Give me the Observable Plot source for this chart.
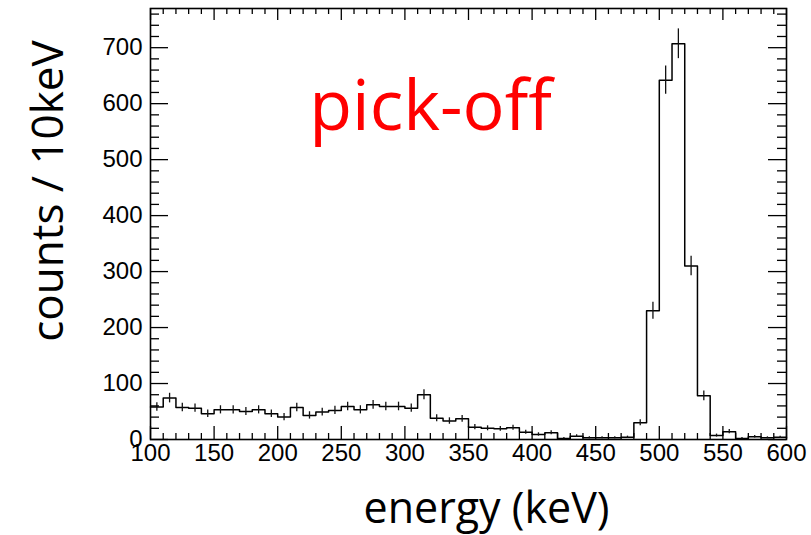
<!DOCTYPE html>
<html>
<head>
<meta charset="utf-8">
<script src="https://cdn.jsdelivr.net/npm/d3@7"></script>
<script src="https://cdn.jsdelivr.net/npm/@observablehq/plot@0.6"></script>
<style>
  html, body { margin: 0; padding: 0; background: #fff; }
  #chart svg { display: block; }
</style>
</head>
<body>
<div id="chart"></div>
<script>
// ---- data ----
const binLow = [100,110,120,130,140,150,160,170,180,190,
                200,210,220,230,240,250,260,270,280,290,
                300,310,320,330,340,350,360,370,380,390,
                400,410,420,430,440,450,460,470,480,490,
                500,510,520,530,540,550,560,570,580,590];
const binWidth = 10;
const counts = [58,74,57,56,46,53,53,50,53,46,
                40,57,43,49,52,59,53,62,59,59,
                56,80,38,33,37,22,20,19,21,13,
                9,12,2,6,3,3,3,4,30,230,
                642,707,310,78,7,14,2,5,3,4];
const xMajorTicks = [100,150,200,250,300,350,400,450,500,550,600];
const xMinorTicks = [110,120,130,140,160,170,180,190,210,220,230,240,260,270,280,290,
                     310,320,330,340,360,370,380,390,410,420,430,440,460,470,480,490,
                     510,520,530,540,560,570,580,590];
const yMajorTicks = [0,100,200,300,400,500,600,700];
const yMinorTicks = [20,40,60,80,120,140,160,180,220,240,260,280,320,340,360,380,
                     420,440,460,480,520,540,560,580,620,640,660,680,720,740,760];
const xTitle = "energy (keV)";
const yTitle = "counts / 10keV";
const annotation = "pick-off";

// ---- derived tables ----
const bins = binLow.map((lo, i) => ({lo, hi: lo + binWidth, mid: lo + binWidth / 2, n: counts[i]}));
const stepPts = bins.map(b => ({x: b.lo, y: b.n}));
stepPts.push({x: bins[bins.length - 1].hi, y: bins[bins.length - 1].n});

const W = 811, H = 535;
const mL = 150, mR = 25, mT = 8, mB = 96;
const fw = W - mL - mR, fh = H - mT - mB;

const chart = Plot.plot({
  width: W, height: H,
  marginLeft: mL, marginRight: mR, marginTop: mT, marginBottom: mB,
  style: {fontFamily: "'Liberation Sans', Arial, sans-serif", fontSize: "24px", color: "#000", background: "#fff"},
  x: {domain: [100, 600]},
  y: {domain: [0, 770]},
  marks: [
    // histogram outline
    Plot.line(stepPts, {x: "x", y: "y", curve: "step-after", stroke: "#000", strokeWidth: 1.5}),
    // error bars
    Plot.ruleX(bins, {x: "mid", y1: d => d.n - Math.sqrt(d.n), y2: d => Math.min(770, d.n + Math.sqrt(d.n)), stroke: "#111", strokeWidth: 1.3}),
    // ticks: bottom
    Plot.ruleX(xMajorTicks, {x: d => d, insetTop: fh - 13, stroke: "#000", strokeWidth: 1.3}),
    Plot.ruleX(xMinorTicks, {x: d => d, insetTop: fh - 6, stroke: "#000", strokeWidth: 1.3}),
    // ticks: top
    Plot.ruleX(xMajorTicks, {x: d => d, insetBottom: fh - 12, stroke: "#000", strokeWidth: 1.3}),
    Plot.ruleX(xMinorTicks, {x: d => d, insetBottom: fh - 6, stroke: "#000", strokeWidth: 1.3}),
    // ticks: left
    Plot.ruleY(yMajorTicks, {y: d => d, insetRight: fw - 18, stroke: "#000", strokeWidth: 1.3}),
    Plot.ruleY(yMinorTicks, {y: d => d, insetRight: fw - 9, stroke: "#000", strokeWidth: 1.3}),
    // ticks: right
    Plot.ruleY(yMajorTicks, {y: d => d, insetLeft: fw - 18, stroke: "#000", strokeWidth: 1.3}),
    Plot.ruleY(yMinorTicks, {y: d => d, insetLeft: fw - 9, stroke: "#000", strokeWidth: 1.3}),
    Plot.frame({stroke: "#000", strokeWidth: 1.6}),
    // tick labels
    Plot.axisX({ticks: xMajorTicks, tickSize: 0, tickPadding: 4, fontSize: 24, label: null, tickFormat: d => String(d)}),
    Plot.axisY({ticks: yMajorTicks, tickSize: 0, tickPadding: 8, fontSize: 24, label: null, tickFormat: d => String(d)}),
    // titles
    Plot.text([xTitle], {frameAnchor: "bottom", dx: 18, dy: 83, text: d => d, fontSize: 43, fontFamily: "'Open Sans', sans-serif", textAnchor: "middle", lineAnchor: "bottom", fill: "#000"}),
    Plot.text([yTitle], {frameAnchor: "left", dx: -88, dy: -33, rotate: -90, text: d => d, fontSize: 44, fontFamily: "'Open Sans', sans-serif", textAnchor: "middle", lineAnchor: "bottom", fill: "#000"}),
    Plot.text([annotation], {frameAnchor: "top-left", dx: 280, dy: 121, text: d => d, fontSize: 70, fontFamily: "'Open Sans', sans-serif", textAnchor: "middle", lineAnchor: "bottom", fill: "#ff0000"})
  ]
});
document.getElementById("chart").appendChild(chart);
</script>
</body>
</html>
